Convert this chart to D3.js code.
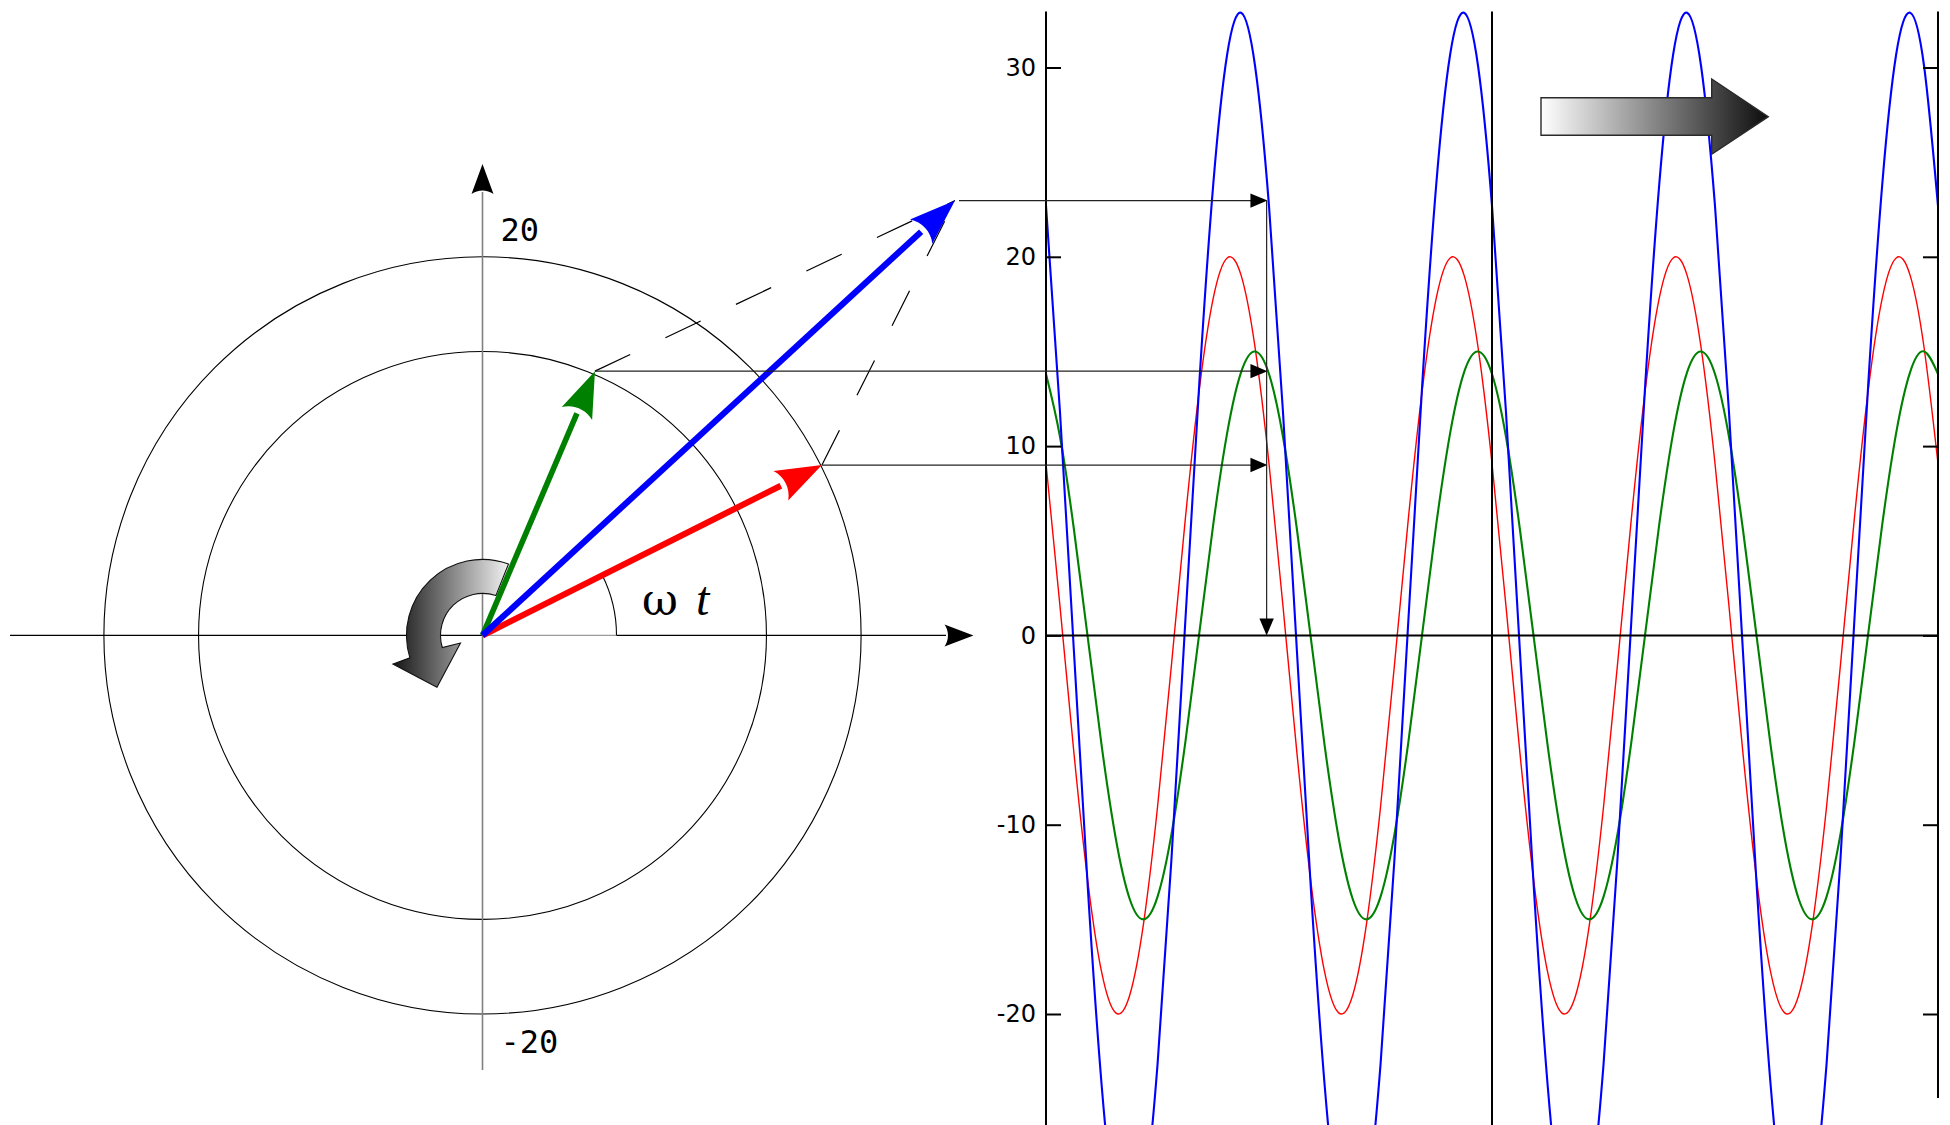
<!DOCTYPE html>
<html><head><meta charset="utf-8">
<script src="https://cdn.jsdelivr.net/npm/d3@7"></script>
<style>html,body{margin:0;padding:0;background:#fff;} svg{display:block}</style>
</head><body>
<svg id="chart" width="1950" height="1125"></svg>
<script>
// ================= DATA =================
const seriesNames  = ["red", "green", "blue"];
const seriesColors = ["#ff0000", "#008000", "#0000ff"];
// phasor tips (units of the value axis)
const phasorRe = [17.93, 5.94, 24.96];
const phasorIm = [9.00, 13.96, 22.97];
// reference circles of the phasor diagram (values)
const circleValues = [15, 20];
const polarLabels  = ["20", "-20"];
// value-axis ticks of the time chart
const yTickValues = [-20, -10, 0, 10, 20, 30];
// projection time (where the horizontal arrows land) and the marked period line
const tProjection = 0.993;
const tMarker = 2;
// common time grid (in periods)
const timeT = [0, 0.0625, 0.125, 0.1875, 0.25, 0.3125, 0.375, 0.4375, 0.5, 0.5625, 0.625, 0.6875, 0.75, 0.8125, 0.875, 0.9375,
  1, 1.0625, 1.125, 1.1875, 1.25, 1.3125, 1.375, 1.4375, 1.5, 1.5625, 1.625, 1.6875, 1.75, 1.8125, 1.875, 1.9375,
  2, 2.0625, 2.125, 2.1875, 2.25, 2.3125, 2.375, 2.4375, 2.5, 2.5625, 2.625, 2.6875, 2.75, 2.8125, 2.875, 2.9375,
  3, 3.0625, 3.125, 3.1875, 3.25, 3.3125, 3.375, 3.4375, 3.5, 3.5625, 3.625, 3.6875, 3.75, 3.8125, 3.875, 3.9375, 4];
const redV = [
  9.08, 1.57, -6.18, -12.99, -17.82, -19.94, -19.02, -15.21, -9.08, -1.57, 6.18, 12.99, 17.82, 19.94, 19.02, 15.21,
  9.08, 1.57, -6.18, -12.99, -17.82, -19.94, -19.02, -15.21, -9.08, -1.57, 6.18, 12.99, 17.82, 19.94, 19.02, 15.21,
  9.08, 1.57, -6.18, -12.99, -17.82, -19.94, -19.02, -15.21, -9.08, -1.57, 6.18, 12.99, 17.82, 19.94, 19.02, 15.21,
  9.08, 1.57, -6.18, -12.99, -17.82, -19.94, -19.02, -15.21, -9.08, -1.57, 6.18, 12.99, 17.82, 19.94, 19.02, 15.21,
  9.08];
const greenV = [
  13.81, 10.51, 5.62, -0.13, -5.86, -10.70, -13.91, -15.00, -13.81, -10.51, -5.62, 0.13, 5.86, 10.70, 13.91, 15.00,
  13.81, 10.51, 5.62, -0.13, -5.86, -10.70, -13.91, -15.00, -13.81, -10.51, -5.62, 0.13, 5.86, 10.70, 13.91, 15.00,
  13.81, 10.51, 5.62, -0.13, -5.86, -10.70, -13.91, -15.00, -13.81, -10.51, -5.62, 0.13, 5.86, 10.70, 13.91, 15.00,
  13.81, 10.51, 5.62, -0.13, -5.86, -10.70, -13.91, -15.00, -13.81, -10.51, -5.62, 0.13, 5.86, 10.70, 13.91, 15.00,
  13.81];
const blueV = [
  22.69, 11.84, -0.80, -13.33, -23.83, -30.70, -32.89, -30.08, -22.69, -11.84, 0.80, 13.33, 23.83, 30.70, 32.89, 30.08,
  22.69, 11.84, -0.80, -13.33, -23.83, -30.70, -32.89, -30.08, -22.69, -11.84, 0.80, 13.33, 23.83, 30.70, 32.89, 30.08,
  22.69, 11.84, -0.80, -13.33, -23.83, -30.70, -32.89, -30.08, -22.69, -11.84, 0.80, 13.33, 23.83, 30.70, 32.89, 30.08,
  22.69, 11.84, -0.80, -13.33, -23.83, -30.70, -32.89, -30.08, -22.69, -11.84, 0.80, 13.33, 23.83, 30.70, 32.89, 30.08,
  22.69];
const seriesV = [redV, greenV, blueV];

// ================= SCALES =================
const svg = d3.select("#chart");
const ys = d3.scaleLinear().domain([-20, 30]).range([1014.0, 67.5]);      // shared value axis
const xs = d3.scaleLinear().domain([0, 4]).range([1046, 1938]);           // time axis
const xp = d3.scaleLinear().domain([0, 20]).range([482.5, 482.5 + 378.6]); // phasor horizontal
const rp = d3.scaleLinear().domain([0, 20]).range([0, 378.6]);            // phasor radius
const ox = xp(0), oy = ys(0);

const defs = svg.append("defs");
const g1 = defs.append("linearGradient").attr("id", "gRing").attr("gradientUnits", "userSpaceOnUse")
  .attr("x1", 393).attr("y1", 0).attr("x2", 510).attr("y2", 0);
g1.append("stop").attr("offset", 0).attr("stop-color", "#151515");
g1.append("stop").attr("offset", 1).attr("stop-color", "#f4f4f4");
const g2 = defs.append("linearGradient").attr("id", "gBlock").attr("gradientUnits", "userSpaceOnUse")
  .attr("x1", 1541).attr("y1", 0).attr("x2", 1768).attr("y2", 0);
g2.append("stop").attr("offset", 0).attr("stop-color", "#ffffff");
g2.append("stop").attr("offset", 1).attr("stop-color", "#0d0d0d");

// arrowhead helper (concave back)
function arrowHead(g, tip, ang, L, W, color) {
  const ux = -Math.cos(ang), uy = -Math.sin(ang);
  const vx = -uy, vy = ux;
  const P = (u, v) => [tip[0] + u * ux + v * vx, tip[1] + u * uy + v * vy];
  const p = d3.path();
  p.moveTo(...P(0, 0));
  p.lineTo(...P(L, W));
  const c1 = P(0.84 * L, 0.41 * W), c2 = P(0.84 * L, -0.41 * W), e = P(L, -W);
  p.bezierCurveTo(c1[0], c1[1], c2[0], c2[1], e[0], e[1]);
  p.closePath();
  g.append("path").attr("d", p.toString()).attr("fill", color);
}

// ================= PHASOR PANEL =================
const gp = svg.append("g");
gp.selectAll("circle.ref").data(circleValues).join("circle")
  .attr("cx", ox).attr("cy", oy).attr("r", d => rp(d))
  .attr("fill", "none").attr("stroke", "#000").attr("stroke-width", 1.1);

// angle arc
const aRed = Math.atan2(phasorIm[0], phasorRe[0]);
const rArc = 134;
gp.append("path")
  .attr("d", `M${ox + rArc},${oy} A${rArc},${rArc} 0 0 0 ${ox + rArc * Math.cos(aRed)},${oy - rArc * Math.sin(aRed)}`)
  .attr("fill", "none").attr("stroke", "#000").attr("stroke-width", 1.1);

// horizontal axis
gp.append("line").attr("x1", 10).attr("x2", ox).attr("y1", oy).attr("y2", oy).attr("stroke", "#000").attr("stroke-width", 1.4);
gp.append("line").attr("x1", ox).attr("x2", ox + rArc).attr("y1", oy).attr("y2", oy).attr("stroke", "#9a9a9a").attr("stroke-width", 1.4);
gp.append("line").attr("x1", ox + rArc).attr("x2", 946).attr("y1", oy).attr("y2", oy).attr("stroke", "#000").attr("stroke-width", 1.4);
arrowHead(gp, [973.5, oy], 0, 29, 11, "#000");
// vertical axis
gp.append("line").attr("x1", ox).attr("x2", ox).attr("y1", 1070).attr("y2", 192).attr("stroke", "#808080").attr("stroke-width", 1.6);
arrowHead(gp, [ox, 164], -Math.PI / 2, 30, 11, "#000");

// labels 20 / -20
gp.append("text").attr("x", 500.5).attr("y", 240.5).text(polarLabels[0])
  .attr("font-family", "DejaVu Sans Mono").attr("font-size", 32).attr("fill", "#000");
gp.append("text").attr("x", 500.5).attr("y", 1053.3).text(polarLabels[1])
  .attr("font-family", "DejaVu Sans Mono").attr("font-size", 32).attr("fill", "#000");

// omega t label
const wt = gp.append("text").attr("y", 615).attr("fill", "#000");
wt.append("tspan").attr("x", 642).attr("font-family", "DejaVu Serif").attr("font-size", 44).text("ω");
wt.append("tspan").attr("x", 696).attr("font-family", "Liberation Serif").attr("font-size", 48).attr("font-style", "italic").text("t");

// rotation arrow
function pol(r, deg) { const a = deg * Math.PI / 180; return [ox + r * Math.cos(a), oy - r * Math.sin(a)]; }
{
  const s0 = pol(76, 70), s1 = pol(76, 197.2);
  let d = `M${s0} A76,76 0 0 0 ${s1}`;
  d += ` L${pol(94, 197.7)} L${pol(69, 228.7)} L${pol(23.3, 199)} L${pol(42, 196.7)}`;
  d += ` A42,42 0 0 1 ${pol(42, 71.4)} Z`;
  gp.append("path").attr("d", d).attr("fill", "url(#gRing)").attr("stroke", "#111").attr("stroke-width", 1.1);
}

// dashed construction lines (each component tip to the resultant tip)
const tipPx = seriesNames.map((n, i) => [xp(phasorRe[i]), ys(phasorIm[i])]);
[0, 1].forEach(i => {
  gp.append("line").attr("x1", tipPx[i][0]).attr("y1", tipPx[i][1]).attr("x2", tipPx[2][0]).attr("y2", tipPx[2][1])
    .attr("stroke", "#000").attr("stroke-width", 1.2).attr("stroke-dasharray", "39,39");
});

// phasors
[0, 1, 2].forEach(i => {
  const [tx, ty] = tipPx[i];
  const ang = Math.atan2(ty - oy, tx - ox);
  const len = Math.hypot(tx - ox, ty - oy);
  const L = 46, W = 16.5;
  const ex = ox + (len - L) * Math.cos(ang), ey = oy + (len - L) * Math.sin(ang);
  gp.append("line").attr("x1", ox).attr("y1", oy).attr("x2", ex).attr("y2", ey)
    .attr("stroke", seriesColors[i]).attr("stroke-width", i === 1 ? 5.6 : 6.2);
  arrowHead(gp, [tx, ty], ang, L, W, seriesColors[i]);
});

// ================= TIME CHART =================
const gc = svg.append("g");
const line = d3.line().x(d => xs(d[0])).y(d => ys(d[1])).curve(d3.curveNatural);
seriesNames.forEach((n, i) => {
  const pts = timeT.map((t, k) => [t, seriesV[i][k]]);
  gc.append("path").datum(pts).attr("d", line).attr("fill", "none")
    .attr("stroke", seriesColors[i]).attr("stroke-width", i === 0 ? 1.4 : 2.1);
});

// axes
const axL = gc.append("g").attr("transform", `translate(${xs(0)},0)`)
  .call(d3.axisLeft(ys).tickValues(yTickValues).tickSizeInner(-15).tickSizeOuter(0).tickPadding(10).tickFormat(d => String(d)));
axL.select(".domain").remove();
axL.selectAll(".tick line").attr("stroke", "#000").attr("stroke-width", 2);
axL.selectAll(".tick text").attr("font-family", "DejaVu Sans").attr("font-size", 24).attr("fill", "#000");
const axR = gc.append("g").attr("transform", `translate(${xs(4)},0)`)
  .call(d3.axisRight(ys).tickValues(yTickValues).tickSizeInner(-15).tickSizeOuter(0).tickFormat(""));
axR.select(".domain").remove();
axR.selectAll(".tick line").attr("stroke", "#000").attr("stroke-width", 2);

gc.append("line").attr("x1", xs(0)).attr("x2", xs(0)).attr("y1", 11.5).attr("y2", 1125).attr("stroke", "#000").attr("stroke-width", 2);
gc.append("line").attr("x1", xs(tMarker)).attr("x2", xs(tMarker)).attr("y1", 11.5).attr("y2", 1125).attr("stroke", "#000").attr("stroke-width", 2);
gc.append("line").attr("x1", xs(4)).attr("x2", xs(4)).attr("y1", 11.5).attr("y2", 1098).attr("stroke", "#000").attr("stroke-width", 2);
gc.append("line").attr("x1", xs(0)).attr("x2", xs(4)).attr("y1", ys(0)).attr("y2", ys(0)).attr("stroke", "#000").attr("stroke-width", 2);

// projection arrows
const xProj = xs(tProjection);
[2, 1, 0].forEach(i => {
  const [tx, ty] = tipPx[i];
  const sx = i === 2 ? tx + 4 : tx;
  svg.append("line").attr("x1", sx).attr("x2", xProj - 10).attr("y1", ty).attr("y2", ty)
    .attr("stroke", "#222").attr("stroke-width", 1.2);
  svg.append("path").attr("d", `M${xProj},${ty} L${xProj - 17},${ty - 7.2} L${xProj - 17},${ty + 7.2} Z`).attr("fill", "#000");
});
{
  const ty = tipPx[2][1];
  const xv = xProj - 0.8;
  svg.append("line").attr("x1", xv).attr("x2", xv).attr("y1", ty).attr("y2", ys(0) - 10)
    .attr("stroke", "#222").attr("stroke-width", 1.2);
  svg.append("path").attr("d", `M${xv},${ys(0)} L${xv - 7.2},${ys(0) - 17} L${xv + 7.2},${ys(0) - 17} Z`).attr("fill", "#000");
}

// block arrow (direction of time)
svg.append("path")
  .attr("d", "M1541,97.7 H1711.7 V79 L1768.3,116.7 L1711.7,154.3 V135.3 H1541 Z")
  .attr("fill", "url(#gBlock)").attr("stroke", "#2a2a2a").attr("stroke-width", 1.4);
</script>
</body></html>
